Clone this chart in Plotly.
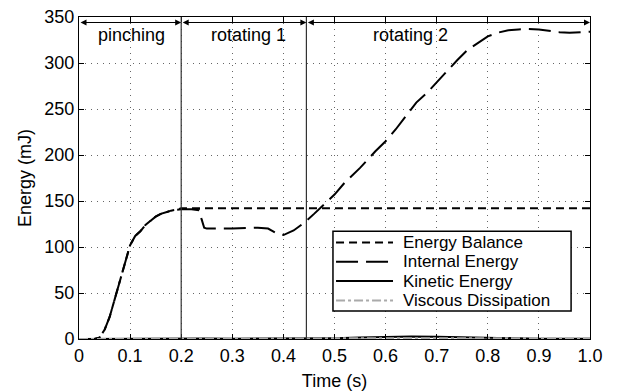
import plotly.graph_objects as go

# ---- data ----
t_int = [0, 0.03, 0.04, 0.05, 0.06, 0.07, 0.08, 0.09, 0.10, 0.11, 0.12, 0.13, 0.14, 0.15,
         0.16, 0.17, 0.18, 0.19, 0.20, 0.22, 0.235, 0.24, 0.245, 0.25, 0.30, 0.35, 0.37,
         0.39, 0.40, 0.42, 0.44, 0.46, 0.48, 0.50, 0.52, 0.55, 0.58, 0.60, 0.62, 0.64,
         0.66, 0.68, 0.70, 0.72, 0.74, 0.76, 0.78, 0.80, 0.82, 0.84, 0.86, 0.88, 0.90,
         0.92, 0.94, 0.96, 0.98, 1.0]
internal = [0, 0, 1.5, 10, 24, 44, 64, 85, 102, 112, 117, 124, 129, 133,
            136, 138, 139.5, 140.5, 141, 141, 140, 130, 121, 120, 120, 121, 120,
            114, 113, 118, 126, 136, 146, 157, 170, 186, 204, 215, 228, 243,
            257, 267, 279, 292, 303, 314, 322, 329, 333, 335.5, 336.5, 337, 336.5,
            335, 333.5, 333, 333.5, 334]

t_bal = [0, 0.03, 0.04, 0.05, 0.06, 0.07, 0.08, 0.09, 0.10, 0.11, 0.12, 0.13, 0.14, 0.15,
         0.16, 0.17, 0.18, 0.19, 0.20, 0.30, 0.40, 0.50, 0.60, 0.70, 0.80, 0.90, 1.0]
balance = [0, 0, 1.5, 10, 24, 44, 64, 85, 102, 112, 117, 124, 129, 133,
           136, 138, 139.5, 140.5, 142, 142, 142, 142, 142, 142, 142, 142, 142]

t_kin = [0, 0.1, 0.2, 0.23, 0.24, 0.25, 0.3, 0.4, 0.5, 0.55, 0.6, 0.65, 0.7, 0.75, 0.8, 0.85, 0.9, 1.0]
kinetic = [0, 0.3, 0.5, 0.8, 1.2, 0.6, 0.4, 0.4, 0.8, 1.5, 2.2, 2.6, 2.5, 2.0, 1.2, 0.6, 0.3, 0.2]

t_visc = [0, 0.1, 0.2, 0.3, 0.4, 0.5, 0.6, 0.7, 0.8, 0.9, 1.0]
viscous = [0, 0.3, 0.5, 0.6, 0.6, 0.7, 0.8, 0.9, 0.9, 0.9, 0.9]

series_names = ["Energy Balance", "Internal Energy", "Kinetic Energy", "Viscous Dissipation"]

phase_bounds = [0.0, 0.2, 0.445, 1.0]
phase_labels = ["pinching", "rotating 1", "rotating 2"]
phase_label_x = [0.102, 0.331, 0.648]

FONT = "Liberation Sans, Arial, sans-serif"
FS = 18

styles = [
    dict(color="black", width=2, dash="8px,5px"),
    dict(color="black", width=2, dash="22px,8px"),
    dict(color="black", width=2),
    dict(color="#aaaaaa", width=2, dash="dashdot"),
]
xs = [t_bal, t_int, t_kin, t_visc]
ys = [balance, internal, kinetic, viscous]

fig = go.Figure()
for name, x, y, st in zip(series_names, xs, ys, styles):
    fig.add_trace(go.Scatter(x=x, y=y, mode="lines", name=name, line=st, showlegend=False))

for b in phase_bounds[1:-1]:
    fig.add_shape(type="line", x0=b, x1=b, y0=0, y1=350, xref="x", yref="y",
                  line=dict(color="#333333", width=1.2))

for i in range(3):
    a, b = phase_bounds[i], phase_bounds[i + 1]
    fig.add_annotation(x=b, y=344, ax=a, ay=344, xref="x", yref="y", axref="x", ayref="y",
                       showarrow=True, arrowhead=2, startarrowhead=2, arrowside="end+start",
                       arrowsize=1, arrowwidth=1.2, arrowcolor="black", text="")
    fig.add_annotation(x=phase_label_x[i], y=330, xref="x", yref="y", text=phase_labels[i],
                       showarrow=False, font=dict(size=FS, color="black", family=FONT))

# ---- legend (drawn box) ----
fig.add_shape(type="rect", xref="paper", yref="paper", x0=0.497, x1=0.963, y0=0.087, y1=0.335,
              line=dict(color="black", width=1.5), fillcolor="white", layer="above")
row_y = [0.2997, 0.2397, 0.1798, 0.1199]
for name, st, ry in zip(series_names, styles, row_y):
    fig.add_shape(type="line", xref="paper", yref="paper", x0=0.503, x1=0.6145, y0=ry, y1=ry,
                  line=st, layer="above")
    fig.add_annotation(x=0.632, y=ry, xref="paper", yref="paper", text=name, showarrow=False,
                       xanchor="left", yanchor="middle", borderpad=0,
                       font=dict(size=17, color="black", family=FONT))

axis_common = dict(showline=True, linecolor="black", linewidth=1, mirror="ticks",
                   ticks="inside", ticklen=5, tickcolor="black", automargin=False,
                   showgrid=True, gridcolor="#666666", griddash="1px,5px", gridwidth=1,
                   zeroline=False, tickfont=dict(size=FS, color="black", family=FONT))

fig.update_xaxes(range=[0, 1.0], tickvals=[0, 0.1, 0.2, 0.3, 0.4, 0.5, 0.6, 0.7, 0.8, 0.9, 1.0],
                 ticktext=["0", "0.1", "0.2", "0.3", "0.4", "0.5", "0.6", "0.7", "0.8", "0.9", "1.0"],
                 title=dict(text="Time (s)", font=dict(size=FS, color="black", family=FONT), standoff=9),
                 **axis_common)
fig.update_yaxes(range=[0, 350], tickvals=[0, 50, 100, 150, 200, 250, 300, 350],
                 title=dict(text="Energy (mJ)", font=dict(size=FS, color="black", family=FONT), standoff=8),
                 **axis_common)

fig.update_layout(width=625, height=392, margin=dict(l=79, r=35, t=17, b=53),
                  plot_bgcolor="white", paper_bgcolor="white", showlegend=False,
                  font=dict(family=FONT, size=FS, color="black"))

fig.write_html("out.html")
